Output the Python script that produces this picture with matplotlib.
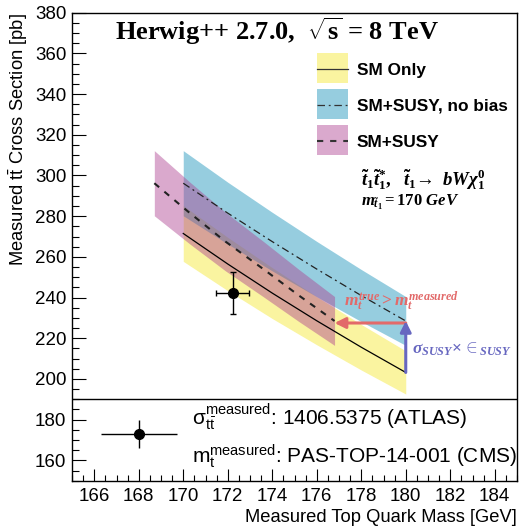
import matplotlib
matplotlib.use('Agg')
import matplotlib.pyplot as plt
from matplotlib.patches import Rectangle
from matplotlib.lines import Line2D
from matplotlib.ticker import MultipleLocator

plt.rcParams['font.family'] = ['Liberation Sans', 'DejaVu Sans']
plt.rcParams['mathtext.fontset'] = 'custom'
plt.rcParams['mathtext.rm'] = 'Liberation Serif:bold'
plt.rcParams['mathtext.it'] = 'Liberation Serif:italic:bold'
plt.rcParams['mathtext.bf'] = 'Liberation Serif:bold'
plt.rcParams['mathtext.sf'] = 'Liberation Sans'

# ---------------- data ----------------
mass_sm = [170, 172, 174, 176, 178, 180]
xs_sm = [271.5, 256.5, 242.2, 228.6, 215.6, 203.2]
xs_sm_up = [285.2, 269.6, 254.7, 240.4, 226.8, 213.8]
xs_sm_dn = [257.8, 243.4, 229.7, 216.8, 204.4, 192.6]

mass_susy = [170, 172, 174, 176, 178, 180]
xs_susy = [296.2, 281.5, 267.5, 254.0, 241.0, 228.5]
xs_susy_up = [312.2, 296.7, 281.9, 267.6, 253.8, 240.5]
xs_susy_dn = [280.2, 266.3, 253.1, 240.4, 228.2, 216.5]

mass_susy_bias = [168.7, 170.3, 171.9, 173.6, 175.2, 176.8]
xs_susy_bias = [296.2, 281.5, 267.5, 254.0, 241.0, 228.5]
xs_susy_bias_up = [312.2, 296.7, 281.9, 267.6, 253.8, 240.5]
xs_susy_bias_dn = [280.2, 266.3, 253.1, 240.4, 228.2, 216.5]

mt_meas, mt_err = 172.22, 0.73
xs_meas, xs_err = 242.4, 10.3

leg_pt_x, leg_pt_xerr = 168.0, 1.7
leg_pt_y, leg_pt_yerr = 172.8, 6.8

x_ticks = [166, 168, 170, 172, 174, 176, 178, 180, 182, 184]
y_ticks = [160, 180, 200, 220, 240, 260, 280, 300, 320, 340, 360, 380]

# ---------------- style ----------------
W, H = 519, 528
YEL_C, YEL_A = (0.956, 0.904, 0.172), 0.45
BLU_C, BLU_A = (0.086, 0.573, 0.729), 0.45
PNK_C, PNK_A = (0.678, 0.259, 0.565), 0.45
RED = '#e26a6a'
BLUE_ARR = '#6767c0'


def FX(px):
    return px / W


def FY(py):
    return 1 - py / H


fig = plt.figure(figsize=(W / 100, H / 100), dpi=100)
ax = fig.add_axes([FX(72), FY(480.7), FX(517) - FX(72), (480.7 - 12.7) / H])

ax.fill_between(mass_sm, xs_sm_dn, xs_sm_up, color=YEL_C, alpha=YEL_A, lw=0)
ax.fill_between(mass_susy, xs_susy_dn, xs_susy_up, color=BLU_C, alpha=BLU_A, lw=0)
ax.fill_between(mass_susy_bias, xs_susy_bias_dn, xs_susy_bias_up, color=PNK_C, alpha=PNK_A, lw=0)

ax.plot(mass_sm, xs_sm, color='black', lw=0.9)
ax.plot(mass_susy, xs_susy, color='#222222', lw=0.9, dashes=(6, 3, 1.5, 3))
ax.plot(mass_susy_bias, xs_susy_bias, color='#222222', lw=1.5, dashes=(3, 3.3))

ax.errorbar([mt_meas], [xs_meas], xerr=[mt_err], yerr=[xs_err], fmt='o', color='black',
            ms=7, lw=1, capsize=2.5, capthick=1)

ax.axhline(190, color='black', lw=1)
ax.errorbar([leg_pt_x], [leg_pt_y], xerr=[leg_pt_xerr], yerr=[leg_pt_yerr], fmt='o',
            color='black', ms=7, lw=1, capsize=0)

# arrows
ax.annotate('', xy=(mass_susy_bias[-1], xs_susy[-1] - 1), xytext=(mass_susy[-1], xs_susy[-1] - 1),
            arrowprops=dict(arrowstyle='-|>', color=RED, lw=2.2, mutation_scale=16,
                            shrinkA=0, shrinkB=0))
ax.annotate('', xy=(mass_sm[-1], xs_susy[-1]), xytext=(mass_sm[-1], xs_sm[-1]),
            arrowprops=dict(arrowstyle='-|>', color=BLUE_ARR, lw=2.2, mutation_scale=16,
                            shrinkA=0, shrinkB=0))

ax.set_xlim(165, 185)
ax.set_ylim(150, 380)
ax.set_xticks(x_ticks)
ax.set_yticks(y_ticks)
ax.xaxis.set_minor_locator(MultipleLocator(0.5))
ax.yaxis.set_minor_locator(MultipleLocator(5))
ax.tick_params(which='both', direction='in', top=False, right=False, labelsize=13.5, width=0.8)
ax.tick_params(axis='y', which='major', length=10, pad=4)
ax.tick_params(axis='y', which='minor', length=5)
ax.tick_params(axis='x', which='major', length=8.5, pad=5)
ax.tick_params(axis='x', which='minor', length=4)
for s in ax.spines.values():
    s.set_linewidth(1.0)

fig.text(FX(517), FY(517), 'Measured Top Quark Mass [GeV]', ha='right', va='center', fontsize=13.2)
fig.text(FX(18), FY(12.7), r'Measured $\mathsf{t\bar{t}}$ Cross Section [pb]', rotation=90,
         ha='center', va='top', fontsize=13.2)

# title
fig.text(FX(115), FY(40), r'Herwig++ 2.7.0,  $\sqrt{\mathrm{s}}$ = 8 TeV', ha='left', va='baseline',
         fontsize=19, fontweight='bold', family='Liberation Serif')

# legend
boxes = [(53, YEL_C, YEL_A, 'SM Only', dict(ls='-', lw=0.9), 70.5),
         (89, BLU_C, BLU_A, 'SM+SUSY, no bias', dict(dashes=(6, 3, 1.5, 3), lw=0.9), 106),
         (125, PNK_C, PNK_A, 'SM+SUSY', dict(dashes=(3, 3.3), lw=1.5), 142.5)]
for top, c, a, lab, lsty, ty in boxes:
    fig.add_artist(Rectangle((FX(316.7), FY(top + 30)), FX(347.7) - FX(316.7), 30 / H,
                             transform=fig.transFigure, facecolor=c, alpha=a, edgecolor='none'))
    fig.add_artist(Line2D([FX(316.7), FX(347.7)], [FY(top + 16), FY(top + 16)],
                          transform=fig.transFigure, color='#333333', **lsty))
    fig.text(FX(357), FY(ty), lab, ha='left', va='center', fontsize=12.4, fontweight='bold')

# process text
fig.text(FX(361), FY(185), r'$\tilde{t}_{1}\tilde{t}_{1}^{*},\ \ \tilde{t}_{1}\!\rightarrow\ bW\chi_{1}^{0}$',
         ha='left', va='baseline', fontsize=13.5)
fig.text(FX(361), FY(206), r'$m_{\tilde{t}_{1}} = \mathit{170\ GeV}$',
         ha='left', va='baseline', fontsize=12)

# annotation texts
fig.text(FX(344), FY(306), r'$m_{t}^{true} > m_{t}^{measured}$', ha='left', va='baseline',
         fontsize=12.5, color=RED)
fig.text(FX(412), FY(354), r'$\sigma_{SUSY}\!\times\!\in_{SUSY}$', ha='left', va='baseline',
         fontsize=12.5, color=BLUE_ARR)

# bottom legend texts
fig.text(FX(192), FY(425), r'$\mathsf{σ}_{\mathsf{t\bar{t}}}^{\mathsf{measured}}$: 1406.5375 (ATLAS)',
         ha='left', va='baseline', fontsize=15)
fig.text(FX(192), FY(462), r'$\mathsf{m}_{\mathsf{t}}^{\mathsf{measured}}$: PAS-TOP-14-001 (CMS)',
         ha='left', va='baseline', fontsize=15)

fig.savefig('out.png', dpi=100)
